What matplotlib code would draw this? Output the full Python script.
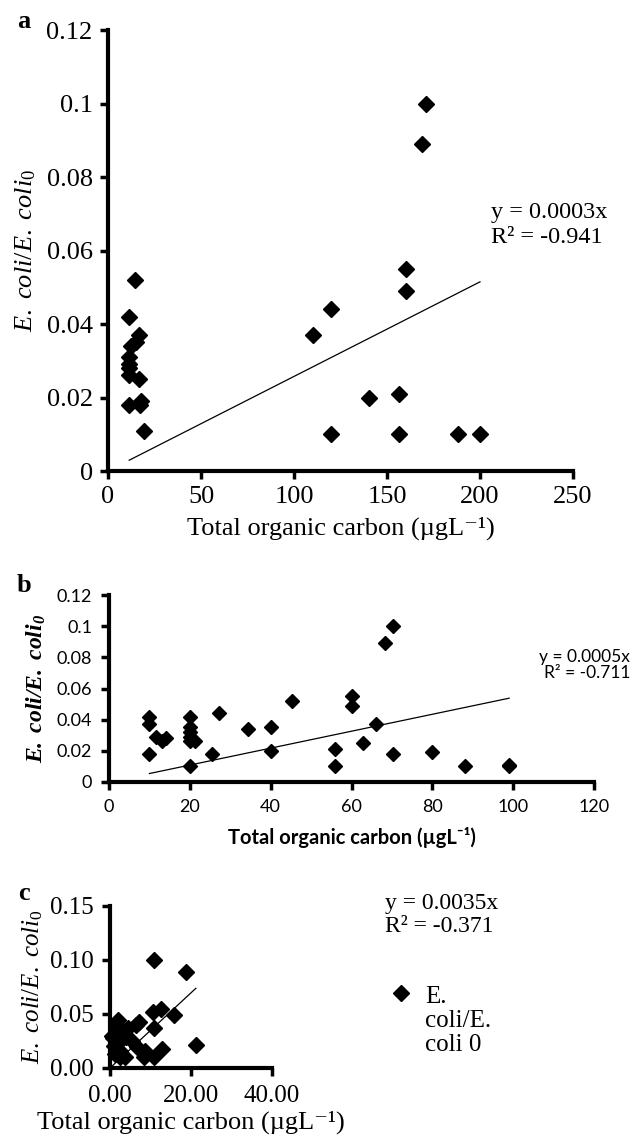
import numpy as np
import matplotlib
matplotlib.use("Agg")
import matplotlib.pyplot as plt

plt.rcParams['mathtext.fontset'] = 'custom'
plt.rcParams['mathtext.rm'] = 'Liberation Serif'
plt.rcParams['mathtext.it'] = 'Liberation Serif:italic'
plt.rcParams['mathtext.bf'] = 'Liberation Serif:bold'
plt.rcParams['mathtext.bfit'] = 'Liberation Serif:italic:bold'

SERIF = ['Liberation Serif', 'DejaVu Serif']
SANS = ['Lato', 'DejaVu Sans']

# panel a: E. coli ratio vs TOC
toc_a = [14.3, 11.4, 16.5, 15, 12.5, 11.4, 11.4, 11.4, 11.4, 16.5, 11.4, 18, 17,
         19.3, 110, 120, 120, 140.4, 156.5, 156.5, 160, 160, 170.8, 168.6, 188.4, 200]
ratio_a = [0.052, 0.042, 0.037, 0.035, 0.034, 0.031, 0.029, 0.028, 0.026, 0.025,
           0.018, 0.019, 0.018, 0.011, 0.037, 0.044, 0.010, 0.020, 0.021, 0.010,
           0.055, 0.049, 0.100, 0.089, 0.010, 0.010]

# panel b
toc_b = [10, 10, 10, 11.7, 13, 14.2, 20, 20, 20, 20, 20, 21.4, 20, 25.5, 27.2,
         34.3, 40, 40, 45.2, 60, 60, 66, 62.8, 56, 56, 68.2, 70.2, 70.2, 80, 88, 99, 99]
ratio_b = [0.042, 0.037, 0.018, 0.029, 0.026, 0.028, 0.042, 0.035, 0.032, 0.029,
           0.026, 0.026, 0.010, 0.018, 0.044, 0.034, 0.035, 0.020, 0.052, 0.055,
           0.049, 0.037, 0.025, 0.021, 0.010, 0.089, 0.100, 0.018, 0.019, 0.010,
           0.010, 0.011]

# panel c
toc_c = [10.8, 18.8, 10.6, 12.6, 15.9, 10.8, 12.8, 21.2, 10.8, 8.3, 6.4, 7.2, 1.9,
         1.6, 4.5, 3.3, 0.8, 2.4, 5.4, 6.6, 8.7, 2.4, 1.2, 2.4, 3.7, 0.6, 1.0, 4.0, 3.0]
ratio_c = [0.100, 0.089, 0.052, 0.055, 0.049, 0.037, 0.018, 0.021, 0.010, 0.010,
           0.040, 0.043, 0.044, 0.041, 0.037, 0.034, 0.028, 0.025, 0.025, 0.019,
           0.016, 0.016, 0.013, 0.010, 0.010, 0.030, 0.020, 0.029, 0.012]

eq_a = "y = 0.0003x\nR² = -0.941"
eq_b = "y = 0.0005x\nR² = -0.711"
eq_c = "y = 0.0035x\nR² = -0.371"
xtitle = 'Total organic carbon (µgL⁻¹)'

W, H = 632, 1138
fig = plt.figure(figsize=(W / 100, H / 100), dpi=100)


def px(x, y):
    return x / W, 1 - y / H


def box(l, t, r, b):
    return [l / W, 1 - b / H, (r - l) / W, (b - t) / H]


def style(ax, fam, size, pad):
    for s in ['top', 'right']:
        ax.spines[s].set_visible(False)
    for s in ['left', 'bottom']:
        ax.spines[s].set_linewidth(3)
    ax.tick_params(width=2.5, length=6, direction='out', pad=pad)
    for lab in ax.get_xticklabels() + ax.get_yticklabels():
        lab.set_family(fam)
        lab.set_fontsize(size)


def scatter_fit(ax, x, y, ms):
    x = np.array(x)
    y = np.array(y)
    ax.plot(x, y, 'D', color='black', ms=ms, ls='none', clip_on=False, zorder=3)
    # linear trendline forced through the origin
    k = np.sum(x * y) / np.sum(x * x)
    xs = np.array([x.min(), x.max()])
    ax.plot(xs, k * xs, color='black', lw=0.9)


# ---- a ----
ax1 = fig.add_axes(box(108, 30, 573, 471))
scatter_fit(ax1, toc_a, ratio_a, 8)
ax1.set_xlim(0, 250)
ax1.set_ylim(0, 0.12)
ax1.set_xticks([0, 50, 100, 150, 200, 250])
ax1.set_yticks([0, 0.02, 0.04, 0.06, 0.08, 0.1, 0.12])
ax1.set_yticklabels(['0', '0.02', '0.04', '0.06', '0.08', '0.1', '0.12'])
style(ax1, SERIF, 19, 5)
ax1.set_xlabel(xtitle, family=SERIF, fontsize=19, labelpad=6)
ax1.set_ylabel(r'$\mathit{E.\ coli/E.\ coli}_{\mathrm{0}}$', fontsize=19, labelpad=6)
fig.text(*px(491, 225), eq_a, family=SERIF, fontsize=17.5, va='center', linespacing=1.2)
fig.text(*px(17, 22), 'a', family=SERIF, fontsize=19, weight='bold', va='center')

# ---- b ----
ax2 = fig.add_axes(box(109, 595, 594, 782))
scatter_fit(ax2, toc_b, ratio_b, 7.5)
ax2.set_xlim(0, 120)
ax2.set_ylim(0, 0.12)
ax2.set_xticks([0, 20, 40, 60, 80, 100, 120])
ax2.set_yticks([0, 0.02, 0.04, 0.06, 0.08, 0.1, 0.12])
ax2.set_yticklabels(['0', '0.02', '0.04', '0.06', '0.08', '0.1', '0.12'])
style(ax2, SANS, 13, 6)
ax2.set_xlabel(xtitle, family=SANS, fontsize=14.5, weight='bold', labelpad=9)
ax2.set_ylabel(r'$\mathbfit{E.\ coli/E.\ coli}_{\mathbfit{0}}$', fontsize=17, labelpad=6)
fig.text(*px(630, 665), eq_b, family=SANS, fontsize=12.5, va='center', ha='right',
         multialignment='right', linespacing=1.05)
fig.text(*px(17, 585), 'b', family=SERIF, fontsize=19, weight='bold', va='center')

# ---- c ----
ax3 = fig.add_axes(box(110, 906, 272, 1068))
scatter_fit(ax3, toc_c, ratio_c, 8)
ax3.set_xlim(0, 40)
ax3.set_ylim(0, 0.15)
ax3.set_xticks([0, 20, 40])
ax3.set_xticklabels(['0.00', '20.00', '40.00'])
ax3.set_yticks([0, 0.05, 0.10, 0.15])
ax3.set_yticklabels(['0.00', '0.05', '0.10', '0.15'])
style(ax3, SERIF, 18, 6)
ax3.set_xlabel(xtitle, family=SERIF, fontsize=19, labelpad=3)
ax3.set_ylabel(r'$\mathit{E.\ coli/E.\ coli}_{\mathit{0}}$', fontsize=18, labelpad=3)
fig.text(*px(385, 915), eq_c, family=SERIF, fontsize=17, va='center', linespacing=1.15)
fig.text(*px(18, 893), 'c', family=SERIF, fontsize=19, weight='bold', va='center')

# legend
fig.lines.append(plt.Line2D([401 / W], [1 - 993 / H], marker='D', color='black', ms=8,
                            ls='none', transform=fig.transFigure))
fig.text(*px(425, 1021), 'E.\ncoli/E.\ncoli 0', family=SERIF, fontsize=18,
         va='center', linespacing=1.1)

fig.savefig('out.png', dpi=100)
